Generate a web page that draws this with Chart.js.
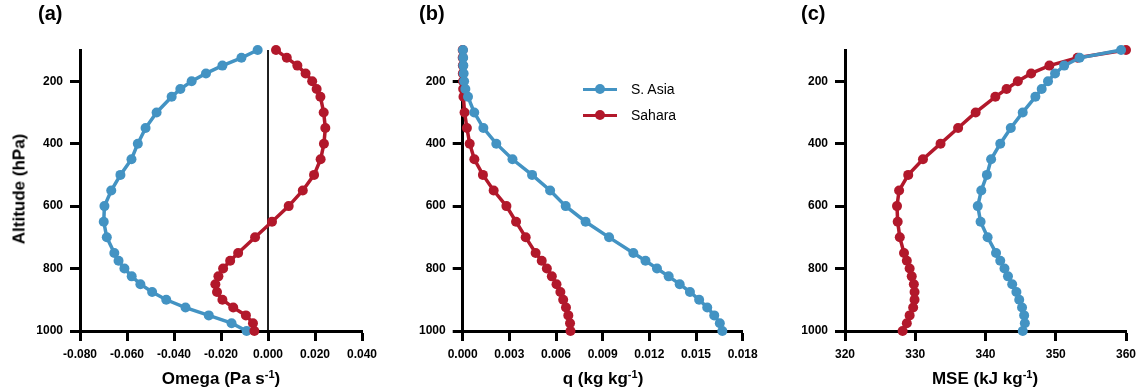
<!DOCTYPE html>
<html>
<head>
<meta charset="utf-8">
<script src="https://cdn.jsdelivr.net/npm/chart.js@4.4.1/dist/chart.umd.min.js"></script>
<style>
  html, body { margin: 0; padding: 0; background: #fff; }
  body { width: 1143px; height: 391px; position: relative; overflow: hidden; font-family: "Liberation Sans", Arial, Helvetica, sans-serif; color: #000; }
  .panel { position: absolute; top: 0; }
  .plabel { position: absolute; top: 3px; font-size: 20px; line-height: 20px; font-weight: bold; }
  .xtitle { position: absolute; top: 378px; font-size: 17px; line-height: 17px; font-weight: bold; transform: translate(-50%, -50%); white-space: nowrap; }
  .xtitle sup { font-size: 11px; vertical-align: 6px; line-height: 0; }
  .ytitle { position: absolute; left: 19px; top: 189px; font-size: 17px; line-height: 17px; font-weight: bold; transform: translate(-50%, -50%) rotate(-90deg); white-space: nowrap; }
  .legend { position: absolute; left: 583px; top: 76px; }
  .litem { position: relative; height: 26px; width: 120px; }
  .lline { position: absolute; left: 0; top: 11.5px; width: 34px; height: 3px; }
  .ldot { position: absolute; left: 12px; top: 8px; width: 10px; height: 10px; border-radius: 50%; }
  .ltext { position: absolute; left: 48px; top: 13px; font-size: 14px; line-height: 14px; transform: translateY(-50%); white-space: nowrap; }
</style>
</head>
<body>
<div class="panel" style="left:0px;"><canvas id="cA" width="380" height="391"></canvas></div>
<div class="panel" style="left:380px;"><canvas id="cB" width="380" height="391"></canvas></div>
<div class="panel" style="left:760px;"><canvas id="cC" width="383" height="391"></canvas></div>

<div class="plabel" style="left:38px;">(a)</div>
<div class="plabel" style="left:419px;">(b)</div>
<div class="plabel" style="left:801px;">(c)</div>

<div class="ytitle">Altitude (hPa)</div>
<div class="xtitle" style="left:221px;">Omega (Pa s<sup>-1</sup>)</div>
<div class="xtitle" style="left:603px;">q (kg kg<sup>-1</sup>)</div>
<div class="xtitle" style="left:985px;">MSE (kJ kg<sup>-1</sup>)</div>

<div class="legend" id="legend"></div>

<script>
// ---------------- DATA ----------------
const levels = [100,125,150,175,200,225,250,300,350,400,450,500,550,600,650,700,750,775,800,825,850,875,900,925,950,975,1000];
const seriesNames = ["S. Asia", "Sahara"];

const omegaAsia = [-0.0044,-0.0113,-0.0194,-0.0264,-0.0325,-0.0373,-0.0410,-0.0474,-0.0521,-0.0554,-0.0581,-0.0628,-0.0667,-0.0696,-0.0699,-0.0686,-0.0654,-0.0636,-0.0611,-0.0580,-0.0543,-0.0493,-0.0433,-0.0351,-0.0252,-0.0155,-0.0091];
const omegaSahara = [0.0034,0.0080,0.0125,0.0160,0.0188,0.0207,0.0223,0.0237,0.0244,0.0238,0.0224,0.0196,0.0148,0.0088,0.0017,-0.0055,-0.0127,-0.0161,-0.0191,-0.0211,-0.0224,-0.0217,-0.0194,-0.0148,-0.0094,-0.0064,-0.0058];

const qAsia = [0.00002,0.00003,0.00004,0.00006,0.00009,0.00017,0.00034,0.00074,0.00133,0.00216,0.00320,0.00446,0.00562,0.00662,0.00790,0.00941,0.01097,0.01175,0.01249,0.01324,0.01395,0.01461,0.01520,0.01572,0.01617,0.01653,0.01669];
const qSahara = [0.00000,0.00000,0.00001,0.00001,0.00002,0.00003,0.00005,0.00012,0.00027,0.00045,0.00075,0.00130,0.00199,0.00281,0.00343,0.00405,0.00469,0.00508,0.00541,0.00573,0.00603,0.00628,0.00646,0.00664,0.00679,0.00690,0.00693];

const mseAsia = [359.3,353.4,351.2,349.9,348.9,348.0,347.1,345.3,343.6,342.1,340.8,340.2,339.4,338.9,339.3,340.3,341.5,342.1,342.7,343.2,343.8,344.4,344.8,345.2,345.5,345.6,345.3];
const mseSahara = [360.0,353.1,349.1,346.5,344.6,343.0,341.4,338.6,336.1,333.6,331.1,329.0,327.7,327.4,327.5,327.8,328.4,328.8,329.2,329.5,329.8,329.9,329.9,329.7,329.2,328.8,328.2];

const yTicks = [200,400,600,800,1000];
const xTicksA = [-0.08,-0.06,-0.04,-0.02,0.00,0.02,0.04];
const xTicksB = [0.000,0.003,0.006,0.009,0.012,0.015,0.018];
const xTicksC = [320,330,340,350,360];
const zeroLine = [0, 0];
const zeroLineLevels = [100, 1000];

// ---------------- STYLE ----------------
const BLUE = '#4393c3';
const RED = '#b2182b';
const FONT = '"Liberation Sans", Arial, Helvetica, sans-serif';

function pts(xs, ys) { return xs.map((v, i) => ({ x: v, y: ys[i] })); }

function series(label, xs, color, order) {
  return {
    label: label,
    data: pts(xs, levels),
    borderColor: color,
    backgroundColor: color,
    borderWidth: 3.5,
    pointRadius: 5,
    pointHoverRadius: 5,
    pointBorderWidth: 0,
    pointBackgroundColor: color,
    tension: 0,
    clip: false,
    order: order
  };
}

function makePanel(id, datasets, xTicks, fmt, chartLeft, chartRight, canvasWidth) {
  const ctx = document.getElementById(id);
  return new Chart(ctx, {
    type: 'line',
    data: { datasets: datasets },
    options: {
      responsive: false,
      animation: false,
      events: [],
      layout: { padding: { top: 50, right: canvasWidth - chartRight, bottom: 0, left: 0 } },
      plugins: { legend: { display: false }, tooltip: { enabled: false }, title: { display: false } },
      scales: {
        x: {
          type: 'linear',
          position: 'bottom',
          min: xTicks[0],
          max: xTicks[xTicks.length - 1],
          afterBuildTicks: s => { s.ticks = xTicks.map(v => ({ value: v })); },
          afterFit: s => { s.height = 60; s.paddingLeft = 0; s.paddingRight = 0; },
          ticks: {
            color: '#000',
            font: { family: FONT, size: 12, weight: 'bold' },
            padding: 6,
            maxRotation: 0,
            autoSkip: false,
            callback: v => fmt(v)
          },
          grid: { drawOnChartArea: false, drawTicks: true, tickLength: 10, tickWidth: 3, tickColor: '#000' },
          border: { display: true, width: 3, color: '#000' }
        },
        y: {
          type: 'linear',
          position: 'left',
          reverse: true,
          min: 100,
          max: 1000,
          afterBuildTicks: s => { s.ticks = yTicks.map(v => ({ value: v })); },
          afterFit: s => { s.width = chartLeft; s.paddingTop = 0; s.paddingBottom = 0; },
          ticks: {
            color: '#000',
            font: { family: FONT, size: 12, weight: 'bold' },
            padding: 7,
            autoSkip: false,
            callback: v => String(v)
          },
          grid: { drawOnChartArea: false, drawTicks: true, tickLength: 10, tickWidth: 3, tickColor: '#000' },
          border: { display: true, width: 3, color: '#000' }
        }
      }
    }
  });
}

// Panel (a): Omega
makePanel('cA', [
  series(seriesNames[1], omegaSahara, RED, 1),
  series(seriesNames[0], omegaAsia, BLUE, 2),
  {
    label: 'zero',
    data: pts(zeroLine, zeroLineLevels),
    borderColor: '#000',
    borderWidth: 1,
    pointRadius: 0,
    clip: false,
    order: 3
  }
], xTicksA, v => v.toFixed(3), 80, 362, 380);

// Panel (b): q
makePanel('cB', [
  series(seriesNames[0], qAsia, BLUE, 1),
  series(seriesNames[1], qSahara, RED, 2)
], xTicksB, v => v.toFixed(3), 82.7, 362.7, 380);

// Panel (c): MSE
makePanel('cC', [
  series(seriesNames[0], mseAsia, BLUE, 1),
  series(seriesNames[1], mseSahara, RED, 2)
], xTicksC, v => String(Math.round(v)), 85, 366, 383);

// Legend (panel b)
const legendColors = [BLUE, RED];
const legendEl = document.getElementById('legend');
seriesNames.forEach((name, i) => {
  const item = document.createElement('div');
  item.className = 'litem';
  item.innerHTML = '<div class="lline" style="background:' + legendColors[i] + '"></div>' +
                   '<div class="ldot" style="background:' + legendColors[i] + '"></div>' +
                   '<div class="ltext">' + name + '</div>';
  legendEl.appendChild(item);
});
</script>
</body>
</html>
